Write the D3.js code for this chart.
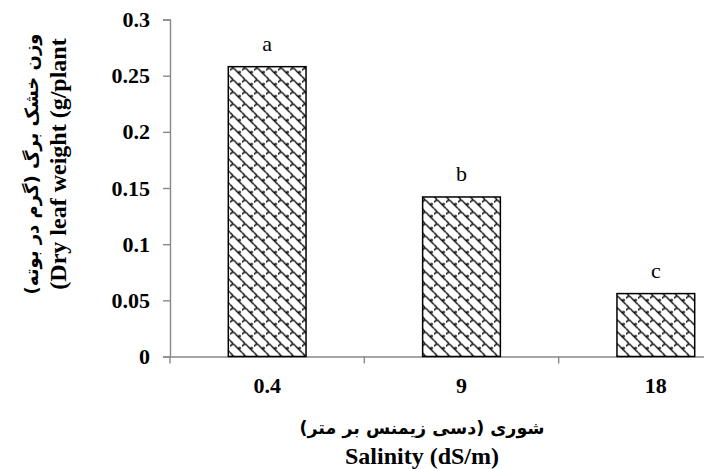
<html>
<head>
  <script src="https://d3js.org/d3.v7.min.js"></script>
  <style>
    body { margin: 0; background: #fff; }
    text { font-family: "Times New Roman", "Liberation Serif", "DejaVu Serif", serif; font-weight: bold; }
    .axis .domain, .axis line { stroke: #888; stroke-width: 1.4px; }
    .axis text { font-size: 22px; fill: #000; font-family: "Times New Roman", "Liberation Serif", "DejaVu Serif", serif; }
  </style>
</head>
<body>
<svg id="chart" width="704" height="469"></svg>
<script>
  // data
  const categories = ["0.4", "9", "18"];
  const values = [0.258, 0.142, 0.056];
  const letters = ["a", "b", "c"];
  const yTicks = [0, 0.05, 0.1, 0.15, 0.2, 0.25, 0.3];

  const svg = d3.select("#chart");
  const margin = { top: 19.5, left: 170 };
  const chartHeight = 337;
  const chartWidth = 583;

  const x = d3.scaleBand().domain(categories).range([0, chartWidth]).paddingInner(0.6).paddingOuter(0.3);
  const y = d3.scaleLinear().domain([0, 0.3]).range([chartHeight, 0]);

  // fill pattern (shingle-like)
  const defs = svg.append("defs");
  const pat = defs.append("pattern").attr("id", "wave")
    .attr("patternUnits", "userSpaceOnUse").attr("width", 12).attr("height", 12);
  pat.append("rect").attr("width", 12).attr("height", 12).attr("fill", "#fff");
  pat.append("path")
    .attr("d", "M0,3 C2,0 4,0 6,3 L12,9 M0,9 L3,12 M8,5 C9,4 10,4 11,5")
    .attr("stroke", "#000").attr("stroke-width", 1.35).attr("fill", "none");

  const g = svg.append("g").attr("transform", `translate(${margin.left},${margin.top})`);

  g.append("g").attr("class", "axis")
    .call(d3.axisLeft(y).tickValues(yTicks).tickFormat(d => d3.format("~g")(d)).tickSize(7).tickPadding(13));

  const xAxis = g.append("g").attr("class", "axis")
    .attr("transform", `translate(0,${chartHeight})`)
    .call(d3.axisBottom(x).tickSize(0).tickPadding(21));
  xAxis.selectAll(".tick line").remove();
  // category boundary ticks
  const bounds = [0, 1, 2, 3].map(i => i * chartWidth / 3);
  xAxis.selectAll("line.bound").data(bounds).join("line")
    .attr("class", "bound")
    .attr("x1", d => d).attr("x2", d => d).attr("y1", 0).attr("y2", 7);

  g.selectAll("rect.bar").data(values).join("rect")
    .attr("class", "bar")
    .attr("x", (d, i) => x(categories[i]))
    .attr("y", d => y(d))
    .attr("width", x.bandwidth())
    .attr("height", d => chartHeight - y(d))
    .attr("fill", "url(#wave)")
    .attr("stroke", "#000").attr("stroke-width", 1.5);

  g.selectAll("text.letter").data(values).join("text")
    .attr("class", "letter")
    .attr("x", (d, i) => x(categories[i]) + x.bandwidth() / 2)
    .attr("y", d => y(d) - 16)
    .attr("text-anchor", "middle")
    .style("font-weight", "normal")
    .style("font-size", "22px")
    .text((d, i) => letters[i]);

  // axis titles
  svg.append("text").attr("x", 422).attr("y", 434).attr("text-anchor", "middle")
    .style("font-size", "17.5px").attr("direction", "rtl")
    .style("font-family", "'DejaVu Sans', sans-serif")
    .text("شوری (دسی زیمنس بر متر)");
  svg.append("text").attr("x", 422).attr("y", 464).attr("text-anchor", "middle")
    .style("font-size", "24px").text("Salinity (dS/m)");

  svg.append("text").attr("transform", "translate(38,164) rotate(-90)").attr("text-anchor", "middle")
    .style("font-size", "18px").attr("direction", "rtl")
    .style("font-family", "'DejaVu Sans', sans-serif")
    .text("وزن خشک برگ (گرم در بوته)");
  svg.append("text").attr("transform", "translate(66,164) rotate(-90)").attr("text-anchor", "middle")
    .style("font-size", "24px")
    .text("(Dry leaf weight (g/plant");
</script>
</body>
</html>
